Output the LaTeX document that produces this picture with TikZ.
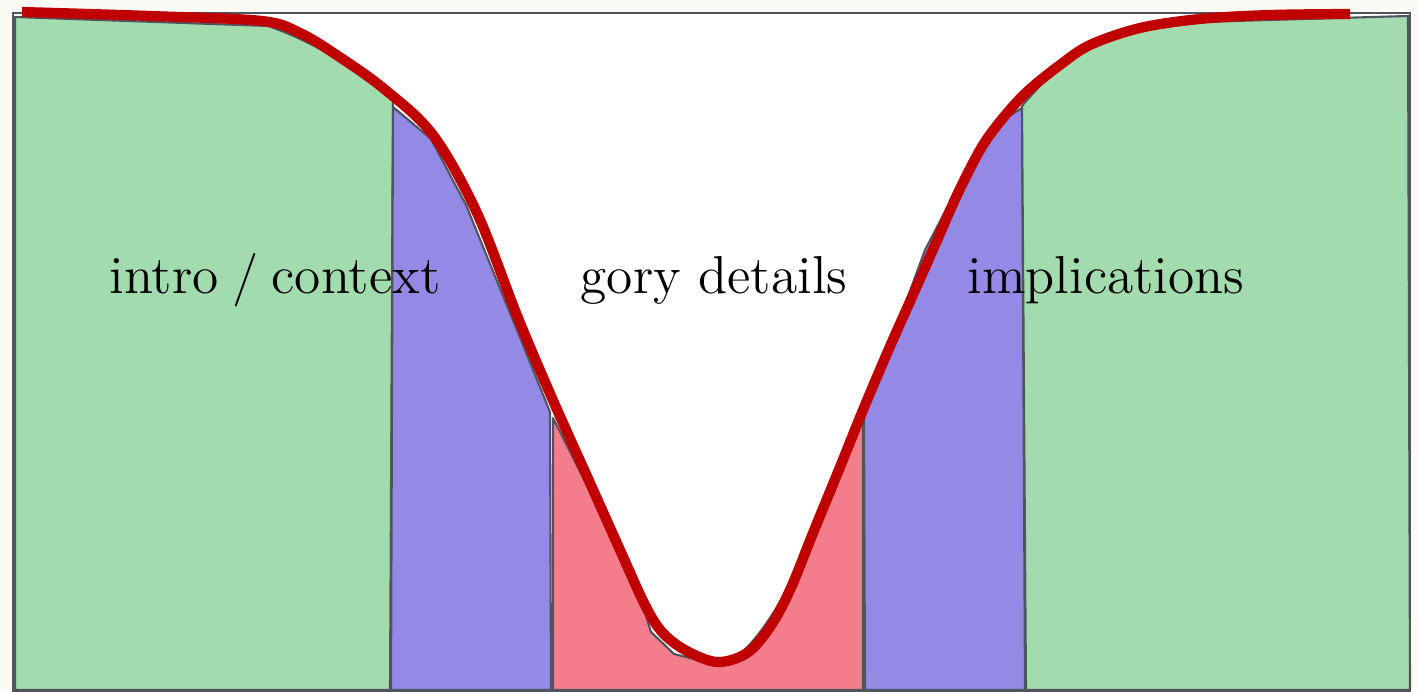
\documentclass[tikz,border=0pt]{standalone}
\usetikzlibrary{calc}
\definecolor{bgpaper}{HTML}{FBFAF5}
\definecolor{greenfill}{HTML}{A2DBAD}
\definecolor{purplefill}{HTML}{9589E6}
\definecolor{pinkfill}{HTML}{F47D8C}
\definecolor{curvered}{HTML}{C00000}
\definecolor{edgegray}{HTML}{50545F}
\font\lblfont="[lmroman12-regular.otf]" at 15.2pt
\tikzset{
  region/.style={draw=edgegray, line width=0.6pt, line join=round},
  frame/.style={draw=edgegray, line width=0.7pt},
  bigcurve/.style={draw=curvered, line width=2.9pt, line cap=butt, line join=round},
  lbl/.style={font=\lblfont, anchor=base, inner sep=0pt}
}
\begin{document}
\begin{tikzpicture}[x=0.01cm,y=-0.01cm]
\useasboundingbox (0,0) rectangle (1418,692);
\fill[bgpaper] (0,0) rectangle (1418,692);
% frame
\path[frame, fill=white] (13,13) rectangle (1410,691);
% left green
\path[region, fill=greenfill] (15,17) -- (268,26)
  .. controls (310,40) and (360,70) .. (393,97) -- (390,690) -- (15,690) -- cycle;
% left purple
\path[region, fill=purplefill] (393,107) -- (431,139) -- (466,205) -- (521,340) -- (550,412) -- (551,690) -- (391,690) -- cycle;
% pink
\path[region, fill=pinkfill] (553,418) -- (607,525) -- (640,597) -- (651,632) -- (674,654) -- (718,665)
  .. controls (750,662) and (790,590) .. (813,536) -- (840,470) -- (863,417) -- (863,690) -- (553,690) -- cycle;
% right purple
\path[region, fill=purplefill] (864,417) -- (925,250) -- (985,135) -- (1000,122) -- (1022,108) -- (1025,690) -- (865,690) -- cycle;
% right green
\path[region, fill=greenfill] (1022,106) .. controls (1045,78) and (1070,58) .. (1085,47)
  -- (1138,27) -- (1200,22) -- (1408,16) -- (1410,690) -- (1026,690) -- cycle;
% red curve
\draw[bigcurve] plot[smooth, tension=0.55] coordinates {
  (22,12) (150,16) (262,21) (300,33) (335,54) (383,88) (433,135) (477,213) (518,318)
  (555,405) (590,483) (620,550) (645,605) (662,632) (685,650) (717,662) (747,653) (770,627)
  (790,590) (813,533) (840,467) (863,410) (888,351) (912,297) (935,245) (958,193)
  (983,145) (1008,112) (1030,89) (1060,65)
  (1090,45) (1140,28) (1200,19) (1270,15) (1350,14)};
% labels
\node[lbl] (intro) at (275,294) {intro\hspace{0.25em}/\hspace{0.25em}context};
\node[lbl] (gory) at (714,294) {gory details};
\node[lbl] (impl) at (1106,294) {implications};
\end{tikzpicture}
\end{document}
